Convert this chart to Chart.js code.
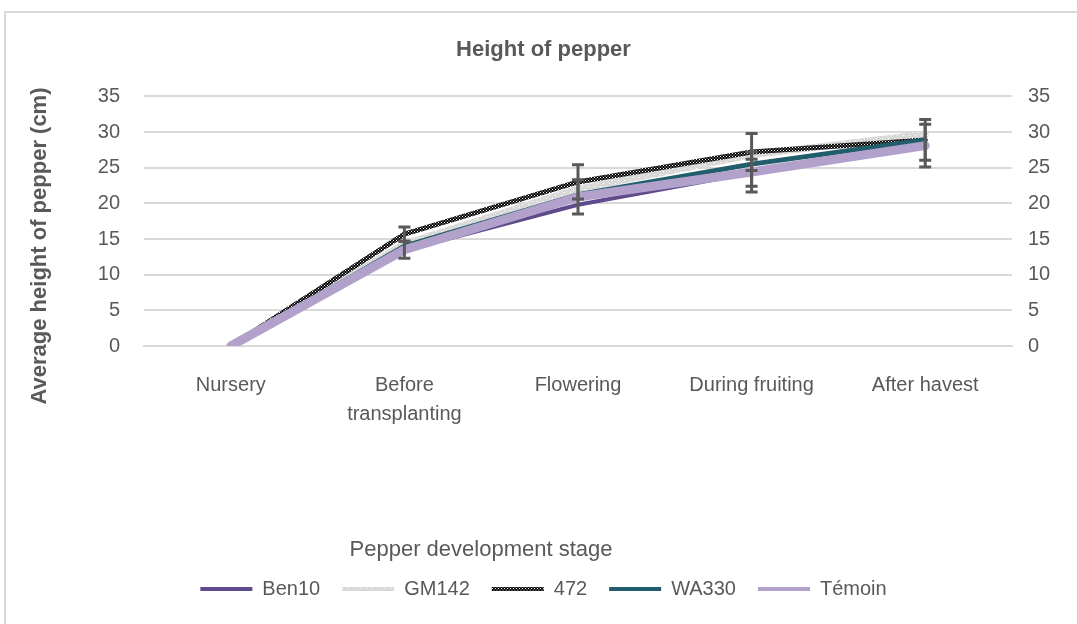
<!DOCTYPE html>
<html>
<head>
<meta charset="utf-8">
<script src="https://cdn.jsdelivr.net/npm/chart.js@4/dist/chart.umd.min.js"></script>
<style>
  html, body { margin: 0; padding: 0; background: #fff; }
  #frame { position: absolute; left: 4px; top: 11px; width: 1090px; height: 630px; border: 2px solid #d9d9d9; box-sizing: border-box; }
  #wrap { position: absolute; left: 0; top: 0; width: 1077px; height: 624px; }
</style>
</head>
<body>
<div id="frame"></div>
<div id="wrap"><canvas id="chart"></canvas></div>
<script>
const FONT = "'Liberation Sans Narrow', 'Liberation Sans', Arial, sans-serif";
const TXT = "#595959";

const stages = ["Nursery", ["Before", "transplanting"], "Flowering", "During fruiting", "After havest"];
const yTitle = "Average height of pepper (cm)";
const xTitle = "Pepper development stage";

const ben10 = [0, 13.4, 19.8, 24.3, 28.0];
const gm142 = [0, 14.3, 22.0, 26.8, 29.7];
const v472 = [0, 15.7, 23.0, 27.2, 28.9];
const wa330 = [0, 14.0, 21.2, 25.5, 28.9];
const temoin = [0, 13.5, 20.9, 24.4, 28.1];

const ben10Err = [0, 0, 0, 1.9, 0];
const v472Err = [0, 1.0, 2.4, 2.6, 2.85];
const temoinErr = [0, 1.2, 2.4, 2.8, 3.0];

function makePattern(bg, fg, size) {
  const c = document.createElement("canvas");
  c.width = size; c.height = size;
  const g = c.getContext("2d");
  g.fillStyle = bg; g.fillRect(0, 0, size, size);
  g.fillStyle = fg;
  g.fillRect(0, 0, 1, 1);
  g.fillRect(size / 2, size / 2, 1, 1);
  return g.createPattern(c, "repeat");
}
const ctx = document.getElementById("chart").getContext("2d");
const blackCheck = makePattern("#000", "#fff", 3);
const grayDots = makePattern("#d9d9d9", "#ffffff", 6);

const errorBars = {
  id: "errorBars",
  afterDatasetsDraw(chart) {
    const g = chart.ctx;
    const y = chart.scales.y;
    g.save();
    g.strokeStyle = "#595959";
    g.lineWidth = 3;
    chart.data.datasets.forEach((ds, i) => {
      if (!ds.err) return;
      const meta = chart.getDatasetMeta(i);
      meta.data.forEach((pt, j) => {
        const e = ds.err[j];
        if (!e) return;
        const v = ds.data[j];
        const top = y.getPixelForValue(v + e), bot = y.getPixelForValue(v - e);
        g.beginPath();
        g.moveTo(pt.x, top); g.lineTo(pt.x, bot);
        g.moveTo(pt.x - 6, top); g.lineTo(pt.x + 6, top);
        g.moveTo(pt.x - 6, bot); g.lineTo(pt.x + 6, bot);
        g.stroke();
      });
    });
    g.restore();
  }
};

// axis titles sit off-centre in the original, so place them by hand
const axisTitles = {
  id: "axisTitles",
  afterDraw(chart) {
    const g = chart.ctx;
    g.save();
    g.fillStyle = TXT;
    g.textAlign = "center";
    g.textBaseline = "middle";
    g.font = "22px " + FONT;
    g.fillText(xTitle, 481, 550);
    g.translate(40, 246);
    g.rotate(-Math.PI / 2);
    g.font = "bold 22px " + FONT;
    g.fillText(yTitle, 0, 0);
    g.restore();
  }
};

const line = (label, data, color, width, order, err) => ({
  label, data, err,
  borderColor: color, backgroundColor: color,
  borderWidth: width, pointRadius: 0, tension: 0,
  borderCapStyle: "round", borderJoinStyle: "round",
  order
});

new Chart(ctx, {
  type: "line",
  data: {
    labels: stages,
    datasets: [
      line("Ben10", ben10, "#5f4b8b", 4, 5, ben10Err),
      line("GM142", gm142, grayDots, 7, 4),
      line("472", v472, blackCheck, 5, 3, v472Err),
      line("WA330", wa330, "#215e6b", 5, 2),
      line("Témoin", temoin, "#b2a1cb", 9, 1, temoinErr)
    ]
  },
  options: {
    responsive: true,
    maintainAspectRatio: false,
    animation: false,
    layout: { padding: { left: 22, right: 12, top: 37, bottom: 15 } },
    plugins: {
      title: {
        display: true, text: "Height of pepper", color: TXT,
        font: { family: FONT, size: 22, weight: "bold" },
        padding: { top: 0, bottom: 33 }
      },
      legend: {
        position: "bottom",
        labels: {
          color: TXT, font: { family: FONT, size: 20 },
          usePointStyle: true, pointStyle: "line", pointStyleWidth: 52,
          padding: 22,
          sort: (a, b) => a.datasetIndex - b.datasetIndex,
          generateLabels(chart) {
            return Chart.defaults.plugins.legend.labels.generateLabels(chart)
              .map(it => Object.assign(it, { lineWidth: 4 }));
          }
        }
      },
      tooltip: { enabled: false }
    },
    scales: {
      x: {
        offset: true,
        grid: { display: false },
        border: { color: "#d9d9d9", width: 2 },
        ticks: { color: TXT, font: { family: FONT, size: 20, lineHeight: 1.45 }, maxRotation: 0, padding: 17 },
        afterFit(s) { s.height = 211; }
      },
      y: {
        position: "left", min: 0, max: 35,
        grid: { color: "#d9d9d9", lineWidth: 2, drawTicks: false },
        border: { display: false },
        ticks: { stepSize: 5, color: TXT, font: { family: FONT, size: 20 }, padding: 24 },
        afterFit(s) { s.width = 122; }
      },
      y2: {
        position: "right", min: 0, max: 35,
        grid: { display: false },
        border: { display: false },
        ticks: { stepSize: 5, color: TXT, font: { family: FONT, size: 20 }, padding: 8 },
        afterFit(s) { s.width = 53; }
      }
    }
  },
  plugins: [errorBars, axisTitles]
});
</script>
</body>
</html>
